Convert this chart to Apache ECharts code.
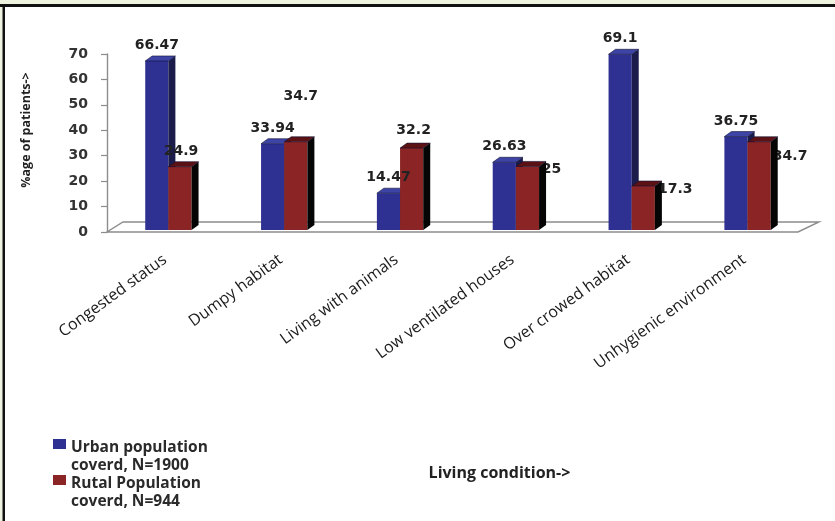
<!DOCTYPE html>
<html>
<head>
<meta charset="utf-8">
<script src="https://cdn.jsdelivr.net/npm/echarts@6/dist/echarts.min.js"></script>
<style>
  html, body { margin: 0; padding: 0; background: #ffffff; }
  #chart { width: 835px; height: 521px; }
</style>
</head>
<body>
<div id="chart"></div>
<script>
// Living conditions of patients, urban vs rural (% of patients)
const categories = [
  'Congested status',
  'Dumpy habitat',
  'Living with animals',
  'Low ventilated houses',
  'Over crowed habitat',
  'Unhygienic environment'
];
const urbanValues = [66.47, 33.94, 14.47, 26.63, 69.1, 36.75];
const ruralValues = [24.9, 34.7, 32.2, 25, 17.3, 34.7];
const yTicks = [0, 10, 20, 30, 40, 50, 60, 70];
const seriesNames = ['Urban population\ncoverd, N=1900', 'Rutal Population\ncoverd, N=944'];

// where each value label sits, relative to the top centre of its bar
const ruralLabelNudge = [[1, -15.5], [5, -45], [2, -18], [24, 3], [32, 3], [31, 15]];
const urbanLabelNudge = [[0, -15.5], [0, -15.5], [0, -15.5], [0, -15.5], [0, -15.5], [0, -15.5]];

const COLORS = {
  urban: { front: '#2E3192', top: '#3d44a6', side: '#1b1c4c' },
  rural: { front: '#8B2425', top: '#5c1214', side: '#050505' }
};
const LABEL_FONT = 'bold 14px "DejaVu Sans"';

// drawing order: urban bars, rural labels, rural bars, urban labels
const LAYERS = [
  { bar: 3, label: 20 },
  { bar: 10, label: 5 }
];

function barRenderer(seriesIdx, palette, nudges) {
  const layer = LAYERS[seriesIdx];
  return function (params, api) {
    const i = api.value(0);
    const v = api.value(1);
    const base = api.coord([i, 0]);
    const top = api.coord([i, v]);
    const band = api.size([1, 0])[0];
    const w = band * 0.2;
    const lift = 2;
    const x0 = base[0] + band * 0.03 - (seriesIdx === 0 ? w : 0);
    const yb = base[1] - lift;
    const yt = top[1] - lift;
    const dx = 7, dy = -5;
    const children = [];

    if (seriesIdx === 0 && params.dataIndex === 0) {
      // floor plane of the chart
      const cs = params.coordSys;
      const L = cs.x, R = cs.x + cs.width, B = cs.y + cs.height;
      children.push({
        type: 'polygon',
        z2: -10,
        shape: { points: [[L, B], [R - 4, B], [R + 17, B - 10], [L + 16, B - 10]] },
        style: { fill: '#ffffff', stroke: '#8c8c8c', lineWidth: 1.4 }
      });
    }

    const n = nudges[params.dataIndex];
    children.push({
      type: 'text',
      z2: layer.label,
      x: x0 + w / 2 + n[0],
      y: yt + n[1],
      style: {
        text: String(v),
        font: LABEL_FONT,
        fill: '#222222',
        align: 'center',
        verticalAlign: 'middle'
      }
    });
    children.push({
      type: 'rect',
      z2: layer.bar,
      shape: { x: x0, y: yt, width: w, height: yb - yt },
      style: { fill: palette.front }
    });
    children.push({
      type: 'polygon',
      z2: layer.bar,
      shape: { points: [[x0 + w, yt], [x0 + w + dx, yt + dy], [x0 + w + dx, yb + dy], [x0 + w, yb]] },
      style: { fill: palette.side }
    });
    children.push({
      type: 'polygon',
      z2: layer.bar,
      shape: { points: [[x0, yt], [x0 + w, yt], [x0 + w + dx, yt + dy], [x0 + dx, yt + dy]] },
      style: { fill: palette.top, stroke: '#111133', lineWidth: 0.6 }
    });
    return { type: 'group', children: children };
  };
}

const chart = echarts.init(document.getElementById('chart'), null, { renderer: 'canvas' });

chart.setOption({
  backgroundColor: '#ffffff',
  animation: false,
  grid: { left: 107, right: 33, top: 54, bottom: 289, containLabel: false },
  xAxis: {
    type: 'category',
    data: categories,
    axisLine: { show: false },
    axisTick: { show: false },
    axisLabel: {
      interval: 0,
      rotate: 36,
      margin: 26,
      fontFamily: 'Open Sans',
      fontSize: 16,
      color: '#1a1a1a'
    },
    name: 'Living condition->',
    nameLocation: 'middle',
    nameGap: 233,
    nameTextStyle: {
      fontFamily: 'Open Sans',
      fontWeight: 'bold',
      fontSize: 16,
      color: '#222222',
      padding: [0, 0, 0, 90]
    }
  },
  yAxis: {
    type: 'value',
    min: yTicks[0],
    max: yTicks[yTicks.length - 1],
    interval: yTicks[1] - yTicks[0],
    axisLine: { show: true, lineStyle: { color: '#8c8c8c', width: 1.4 } },
    axisTick: { show: true, length: 6, lineStyle: { color: '#8c8c8c', width: 1.2 } },
    splitLine: { show: false },
    axisLabel: {
      margin: 19,
      fontFamily: 'DejaVu Sans',
      fontWeight: 'bold',
      fontSize: 14,
      color: '#333333'
    },
    name: '%age of patients->',
    nameLocation: 'middle',
    nameRotate: 90,
    nameGap: 74,
    nameTextStyle: {
      fontFamily: 'Open Sans',
      fontWeight: 'bold',
      fontSize: 12.5,
      color: '#222222',
      padding: [0, 0, 0, 26]
    }
  },
  legend: {
    orient: 'vertical',
    left: 53,
    top: 439,
    padding: 0,
    itemGap: 0,
    itemWidth: 13,
    itemHeight: 36,
    icon: 'path://M0,0H13V10H0Z M6.5,35.9h0.05v0.05h-0.05Z',
    textStyle: {
      fontFamily: 'Open Sans',
      fontWeight: 'bold',
      fontSize: 15.5,
      lineHeight: 18,
      color: '#2a2a2a'
    },
    data: seriesNames
  },
  graphic: [
    { type: 'rect', shape: { x: 0, y: 0, width: 835, height: 4 }, style: { fill: '#eef4e0' }, silent: true },
    { type: 'rect', shape: { x: 0, y: 0, width: 2.5, height: 521 }, style: { fill: '#eef4e0' }, silent: true },
    { type: 'rect', shape: { x: 0, y: 4, width: 835, height: 3 }, style: { fill: '#111111' }, silent: true },
    { type: 'rect', shape: { x: 2.5, y: 4, width: 2.5, height: 517 }, style: { fill: '#111111' }, silent: true }
  ],
  series: [
    {
      type: 'custom',
      name: seriesNames[0],
      itemStyle: { color: COLORS.urban.front },
      encode: { x: 0, y: 1 },
      data: urbanValues.map((v, i) => [i, v]),
      renderItem: barRenderer(0, COLORS.urban, urbanLabelNudge)
    },
    {
      type: 'custom',
      name: seriesNames[1],
      itemStyle: { color: COLORS.rural.front },
      encode: { x: 0, y: 1 },
      data: ruralValues.map((v, i) => [i, v]),
      renderItem: barRenderer(1, COLORS.rural, ruralLabelNudge)
    }
  ]
});
</script>
</body>
</html>
